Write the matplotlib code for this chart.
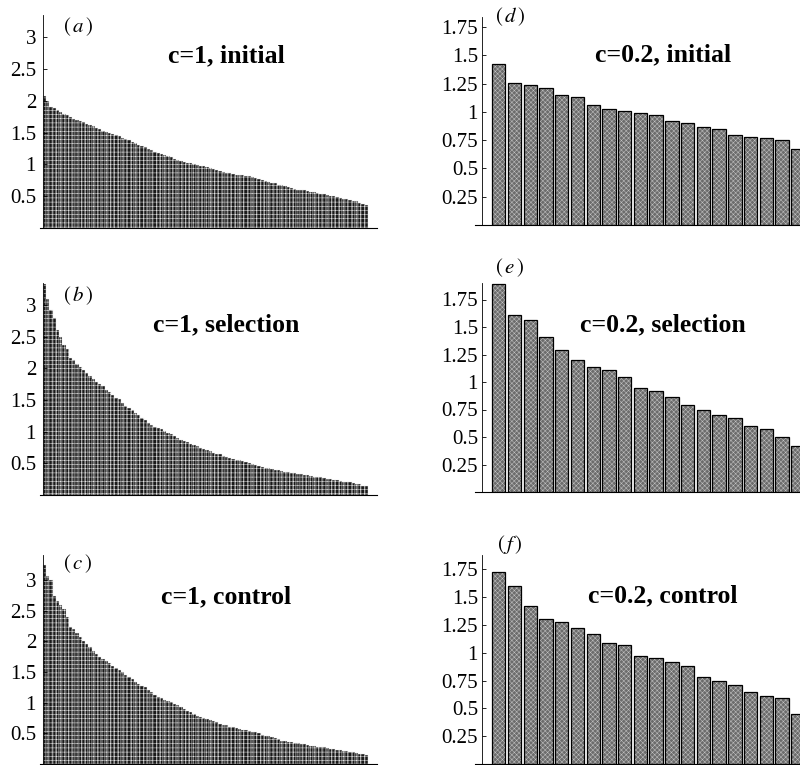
import matplotlib.pyplot as plt
import numpy as np

plt.rcParams["font.family"] = ["Liberation Serif", "DejaVu Serif"]
plt.rcParams["mathtext.fontset"] = "stix"
plt.rcParams["hatch.linewidth"] = 0.35

# ranked values, c = 1 (100 bars each)
c1_initial = [
    2.07, 2.00, 1.90, 1.88, 1.85, 1.83, 1.80, 1.77, 1.74, 1.72,
    1.70, 1.68, 1.66, 1.64, 1.62, 1.60, 1.57, 1.55, 1.53, 1.51,
    1.49, 1.48, 1.46, 1.44, 1.42, 1.40, 1.38, 1.35, 1.33, 1.31,
    1.29, 1.27, 1.25, 1.22, 1.20, 1.18, 1.17, 1.15, 1.13, 1.11,
    1.09, 1.07, 1.06, 1.04, 1.03, 1.02, 1.00, 0.99, 0.98, 0.97,
    0.96, 0.94, 0.93, 0.91, 0.89, 0.88, 0.87, 0.86, 0.85, 0.84,
    0.83, 0.83, 0.82, 0.81, 0.80, 0.79, 0.77, 0.75, 0.74, 0.72,
    0.71, 0.70, 0.68, 0.67, 0.66, 0.64, 0.63, 0.61, 0.60, 0.59,
    0.59, 0.58, 0.57, 0.56, 0.55, 0.54, 0.53, 0.52, 0.51, 0.50,
    0.48, 0.47, 0.46, 0.45, 0.44, 0.43, 0.42, 0.40, 0.38, 0.36,
]
c1_selection = [
    3.34, 3.10, 2.92, 2.79, 2.60, 2.50, 2.37, 2.30, 2.17, 2.13,
    2.07, 2.03, 1.97, 1.92, 1.88, 1.83, 1.79, 1.76, 1.72, 1.66,
    1.62, 1.58, 1.54, 1.52, 1.46, 1.41, 1.38, 1.34, 1.30, 1.27,
    1.22, 1.18, 1.14, 1.11, 1.08, 1.06, 1.04, 1.01, 0.98, 0.96,
    0.93, 0.90, 0.87, 0.85, 0.83, 0.81, 0.79, 0.77, 0.75, 0.73,
    0.71, 0.69, 0.67, 0.65, 0.64, 0.62, 0.60, 0.59, 0.57, 0.56,
    0.55, 0.53, 0.52, 0.50, 0.49, 0.47, 0.46, 0.45, 0.43, 0.42,
    0.41, 0.40, 0.39, 0.38, 0.37, 0.36, 0.35, 0.34, 0.33, 0.33,
    0.32, 0.31, 0.30, 0.29, 0.29, 0.28, 0.27, 0.26, 0.25, 0.24,
    0.23, 0.22, 0.21, 0.20, 0.20, 0.19, 0.18, 0.17, 0.15, 0.14,
]
c1_control = [
    3.24, 3.07, 3.01, 2.74, 2.66, 2.59, 2.53, 2.40, 2.24, 2.20,
    2.14, 2.07, 2.01, 1.95, 1.91, 1.85, 1.79, 1.75, 1.71, 1.68,
    1.64, 1.60, 1.56, 1.53, 1.50, 1.45, 1.42, 1.38, 1.34, 1.30,
    1.28, 1.25, 1.21, 1.17, 1.13, 1.10, 1.07, 1.05, 1.03, 1.01,
    0.98, 0.96, 0.93, 0.90, 0.87, 0.85, 0.82, 0.79, 0.77, 0.75,
    0.73, 0.71, 0.70, 0.68, 0.66, 0.64, 0.63, 0.61, 0.60, 0.58,
    0.57, 0.56, 0.55, 0.54, 0.53, 0.52, 0.50, 0.48, 0.46, 0.45,
    0.44, 0.42, 0.40, 0.38, 0.37, 0.36, 0.36, 0.35, 0.34, 0.33,
    0.32, 0.31, 0.30, 0.29, 0.28, 0.28, 0.27, 0.26, 0.25, 0.24,
    0.23, 0.23, 0.22, 0.21, 0.20, 0.19, 0.18, 0.17, 0.16, 0.15,
]

# ranked values, c = 0.2 (20 bars each)
c02_initial = [1.42, 1.26, 1.24, 1.21, 1.15, 1.13, 1.06, 1.03, 1.01, 0.99,
               0.97, 0.92, 0.90, 0.87, 0.85, 0.80, 0.78, 0.77, 0.75, 0.67]
c02_selection = [1.89, 1.61, 1.56, 1.41, 1.29, 1.20, 1.14, 1.11, 1.05, 0.95,
                 0.92, 0.86, 0.79, 0.75, 0.70, 0.67, 0.60, 0.57, 0.50, 0.42]
c02_control = [1.73, 1.60, 1.42, 1.30, 1.28, 1.22, 1.17, 1.09, 1.07, 0.97,
               0.95, 0.92, 0.88, 0.78, 0.75, 0.71, 0.65, 0.61, 0.59, 0.45]

left_ticks = [0.5, 1, 1.5, 2, 2.5, 3]
left_ticklabels = ["0.5", "1", "1.5", "2", "2.5", "3"]
right_ticks = [0.25, 0.5, 0.75, 1, 1.25, 1.5, 1.75]
right_ticklabels = ["0.25", "0.5", "0.75", "1", "1.25", "1.5", "1.75"]

W, H = 800, 765
fig = plt.figure(figsize=(W / 100, H / 100), dpi=100)


def px_axes(x0, x1, y_top, y_zero):
    return fig.add_axes([x0 / W, (H - y_zero) / H, (x1 - x0) / W, (y_zero - y_top) / H])


def style_axes(ax, yaxis_x, ticks, labels, pad):
    for side in ["top", "right"]:
        ax.spines[side].set_visible(False)
    ax.spines["left"].set_position(("data", yaxis_x))
    ax.spines["left"].set_linewidth(0.6)
    ax.spines["bottom"].set_linewidth(0.8)
    ax.set_xticks([])
    ax.set_yticks(ticks)
    ax.set_yticklabels(labels)
    ax.tick_params(axis="y", direction="in", length=3, width=0.6, labelsize=15, pad=pad)


def dense_panel(vals, y_top, y_zero, ymax, tag, title, tag_y, title_y):
    ax = px_axes(40, 377, y_top, y_zero)
    x = np.arange(len(vals))
    ax.bar(x, vals, width=1.0, align="edge", color="#1a1a1a",
           edgecolor="#e8e8e8", linewidth=0.3, hatch="++++")
    ax.set_xlim(-0.92, 102.8)
    ax.set_ylim(0, ymax)
    style_axes(ax, 0, left_ticks, left_ticklabels, pad=5)
    fig.text(78 / W, 1 - tag_y / H, tag, ha="center", va="center", fontsize=15)
    fig.text(226 / W, 1 - title_y / H, title, ha="center", va="center",
             fontsize=18.5, fontweight="bold")


def sparse_panel(vals, y_top, y_zero, ymax, tag, title, tag_y, title_y):
    ax = px_axes(475, 800, y_top, y_zero)
    x = np.arange(len(vals))
    ax.bar(x, vals, width=0.85, color="#6c6c6c", edgecolor="#c4c4c4",
           linewidth=0, hatch="xxxxxxx")
    ax.bar(x, vals, width=0.85, fill=False, edgecolor="black", linewidth=0.9)
    ax.set_xlim(-1.51, 19.14)
    ax.set_ylim(0, ymax)
    style_axes(ax, -1.06, right_ticks, right_ticklabels, pad=3)
    fig.text(510 / W, 1 - tag_y / H, tag, ha="center", va="center", fontsize=15)
    fig.text(663 / W, 1 - title_y / H, title, ha="center", va="center",
             fontsize=18.5, fontweight="bold")


dense_panel(c1_initial, 15, 228, 3.35, r"$(\,a\,)$", "c=1, initial", 27, 56)
dense_panel(c1_selection, 283, 495, 3.35, r"$(\,b\,)$", "c=1, selection", 296, 325)
dense_panel(c1_control, 555, 764, 3.41, r"$(\,c\,)$", "c=1, control", 564, 597)

sparse_panel(c02_initial, 17, 225, 1.84, r"$(\,d\,)$", "c=0.2, initial", 17, 55)
sparse_panel(c02_selection, 283, 492, 1.90, r"$(\,e\,)$", "c=0.2, selection", 268, 325)
sparse_panel(c02_control, 555, 764, 1.88, r"$(\,f\,)$", "c=0.2, control", 545, 596)

fig.savefig("out.png", dpi=100, facecolor="white")
